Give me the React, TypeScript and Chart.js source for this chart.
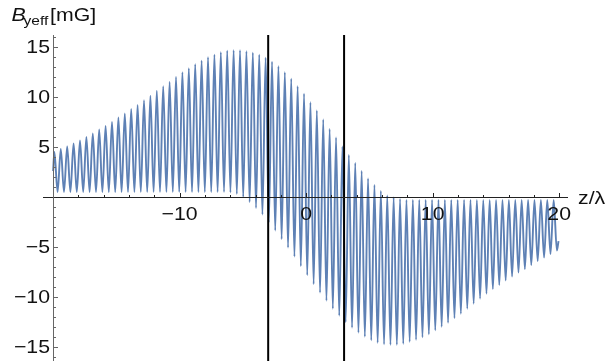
import { useEffect, useRef } from 'react';
import { Chart, registerables } from 'chart.js';

Chart.register(...registerables);

// Upper extremes of the field oscillation, one per period (mG)
const crestValues = [
  4.5, 4.8, 5.05, 5.35, 5.65, 6.0, 6.35, 6.75, 7.1, 7.5,
  7.95, 8.35, 8.8, 9.2, 9.65, 10.1, 10.6, 11.05, 11.5, 12.0,
  12.45, 12.85, 13.25, 13.6, 13.95, 14.2, 14.45, 14.6, 14.65, 14.65,
  14.55, 14.4, 14.2, 13.9, 13.5, 13.05, 12.45, 11.8, 11.05, 10.3,
  9.45, 8.65, 7.75, 6.8, 5.95, 5.05, 4.2, 3.4, 2.6, 1.85,
  1.2, 0.6, 0.15, -0.05, -0.2, -0.3, -0.3, -0.3, -0.3, -0.3,
  -0.3, -0.3, -0.3, -0.3, -0.3, -0.3, -0.3, -0.3, -0.3, -0.3,
  -0.3, -0.3, -0.3, -0.3, -0.3, -0.3, -0.3, -0.3, -0.3,
];

// Lower extremes of the field oscillation, one per period (mG)
const troughValues = [
  0.5, 0.5, 0.5, 0.5, 0.5, 0.5, 0.5, 0.5, 0.5, 0.5,
  0.5, 0.5, 0.5, 0.5, 0.5, 0.5, 0.5, 0.5, 0.5, 0.5,
  0.5, 0.5, 0.5, 0.5, 0.5, 0.5, 0.5, 0.45, 0.3, 0.0,
  -0.5, -1.1, -1.75, -2.55, -3.35, -4.2, -5.05, -5.95, -6.9, -7.8,
  -8.7, -9.55, -10.35, -11.15, -11.85, -12.5, -13.05, -13.55, -13.95, -14.3,
  -14.55, -14.7, -14.75, -14.75, -14.65, -14.45, -14.25, -14.0, -13.7, -13.3,
  -12.95, -12.55, -12.1, -11.65, -11.15, -10.65, -10.15, -9.65, -9.2, -8.8,
  -8.35, -7.95, -7.55, -7.2, -6.8, -6.4, -6.05, -5.7, -5.35,
];

// Sampling of z/λ: the extremes alternate every half period
const zStart = -20.0;
const startValue = 2.6;
const zFirstCrest = -19.9;
const halfPeriod = 0.253;
const zEnd = 19.95;
const endValue = -4.4;

// Vertical reference lines (z/λ)
const markerLines = [-3, 3];

// Axis ticks
const xTickLabels = [-10, 0, 10, 20];
const xMinorStep = 2;
const yTickLabels = [-15, -10, -5, 5, 10, 15];
const yMinorStep = 1;

const X_MIN = -20.8;
const X_MAX = 20.7;
const Y_MIN = -16.37;
const Y_MAX = 16.17;
const Y_AXIS_AT = -20;

const CURVE_COLOR = '#5e81b5';
const FONT = '"Liberation Sans", Arial, sans-serif';
const TEXT_STRETCH = 1.15;

function buildCurve() {
  const pts: { x: number; y: number }[] = [{ x: zStart, y: startValue }];
  for (let i = 0; i < crestValues.length; i++) {
    pts.push({ x: zFirstCrest + 2 * i * halfPeriod, y: crestValues[i] });
    if (i < troughValues.length) {
      pts.push({ x: zFirstCrest + (2 * i + 1) * halfPeriod, y: troughValues[i] });
    }
  }
  pts.push({ x: zEnd, y: endValue });
  return pts;
}

const fmt = (v: number) => (v < 0 ? '\u2212' + Math.abs(v) : String(v));

// Text drawn slightly wide, anchored at (x, y)
function wideText(
  ctx: CanvasRenderingContext2D,
  text: string,
  x: number,
  y: number,
  font: string,
  align: CanvasTextAlign,
  baseline: CanvasTextBaseline,
) {
  ctx.save();
  ctx.font = font;
  ctx.textAlign = align;
  ctx.textBaseline = baseline;
  ctx.translate(x, y);
  ctx.scale(TEXT_STRETCH, 1);
  ctx.fillText(text, 0, 0);
  const w = ctx.measureText(text).width * TEXT_STRETCH;
  ctx.restore();
  return w;
}

const axesPlugin = {
  id: 'crossedAxes',
  afterDatasetsDraw(chart: any) {
    const { ctx, chartArea } = chart;
    const xs = chart.scales.x;
    const ys = chart.scales.y;
    const y0 = Math.round(ys.getPixelForValue(0)) + 0.5;
    const xa = Math.round(xs.getPixelForValue(Y_AXIS_AT)) + 0.5;

    ctx.save();
    ctx.lineWidth = 1;

    // horizontal axis through y = 0
    ctx.strokeStyle = '#222';
    ctx.beginPath();
    ctx.moveTo(chartArea.left, y0);
    ctx.lineTo(chartArea.right, y0);
    ctx.stroke();

    // x ticks pointing up
    for (let v = Y_AXIS_AT + xMinorStep; v <= X_MAX; v += xMinorStep) {
      const px = Math.round(xs.getPixelForValue(v)) + 0.5;
      const major = xTickLabels.includes(v);
      ctx.beginPath();
      ctx.moveTo(px, y0);
      ctx.lineTo(px, y0 - (major ? 4.5 : 2.5));
      ctx.stroke();
    }

    // vertical axis at the left
    ctx.strokeStyle = '#666';
    ctx.beginPath();
    ctx.moveTo(xa, chartArea.top);
    ctx.lineTo(xa, chartArea.bottom);
    ctx.stroke();

    for (let v = Math.ceil(Y_MIN); v <= Y_MAX; v += yMinorStep) {
      if (v === 0) continue;
      const py = Math.round(ys.getPixelForValue(v)) + 0.5;
      const major = v % 5 === 0;
      ctx.beginPath();
      ctx.moveTo(xa, py);
      ctx.lineTo(xa + (major ? 4.5 : 2.5), py);
      ctx.stroke();
    }

    // tick labels
    ctx.fillStyle = '#111';
    const tickFont = `18.5px ${FONT}`;
    for (const v of xTickLabels) {
      wideText(ctx, fmt(v), xs.getPixelForValue(v), ys.getPixelForValue(0) + 23, tickFont, 'center', 'alphabetic');
    }
    for (const v of yTickLabels) {
      wideText(ctx, fmt(v), xa - 3.5, ys.getPixelForValue(v) + 1, tickFont, 'right', 'middle');
    }

    // axis titles
    wideText(ctx, 'z/\u03bb', 578, ys.getPixelForValue(0) + 7, tickFont, 'left', 'alphabetic');

    wideText(ctx, 'B', 11.5, 21, `italic 18.5px ${FONT}`, 'left', 'alphabetic');
    wideText(ctx, 'yeff', 23.5, 25, `13.5px ${FONT}`, 'left', 'alphabetic');
    wideText(ctx, '[mG]', 50, 21, tickFont, 'left', 'alphabetic');

    ctx.restore();
  },
};

export default function App() {
  const canvasRef = useRef<HTMLCanvasElement | null>(null);

  useEffect(() => {
    const canvas = canvasRef.current;
    if (!canvas) return;

    const lineSets = markerLines.map((z) => ({
      data: [
        { x: z, y: Y_MIN },
        { x: z, y: Y_MAX },
      ],
      borderColor: '#000',
      borderWidth: 2,
      pointRadius: 0,
      fill: false,
      order: 0,
    }));

    const chart = new Chart(canvas, {
      type: 'line',
      data: {
        datasets: [
          ...lineSets,
          {
            data: buildCurve(),
            borderColor: CURVE_COLOR,
            borderWidth: 1.9,
            pointRadius: 0,
            fill: false,
            cubicInterpolationMode: 'monotone',
            order: 1,
          },
        ],
      },
      options: {
        animation: false,
        responsive: false,
        devicePixelRatio: 1,
        layout: { padding: { left: 43, right: 37, top: 35, bottom: 0 } },
        scales: {
          x: { type: 'linear', min: X_MIN, max: X_MAX, display: false },
          y: { type: 'linear', min: Y_MIN, max: Y_MAX, display: false },
        },
        plugins: {
          legend: { display: false },
          tooltip: { enabled: false },
        },
      },
      plugins: [axesPlugin],
    });

    return () => chart.destroy();
  }, []);

  return (
    <div style={{ position: 'absolute', left: 0, top: 0, width: 605, height: 361, background: '#fff' }}>
      <canvas ref={canvasRef} width={605} height={361} />
    </div>
  );
}
